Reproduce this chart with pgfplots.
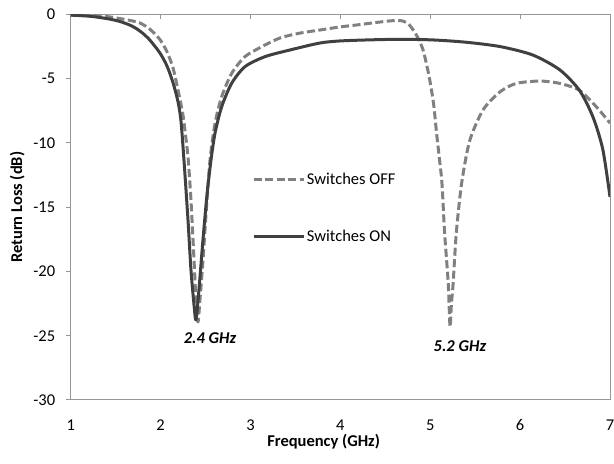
\documentclass[border=0pt]{standalone}
\usepackage{fontspec}
\setmainfont{Carlito}
\usepackage{pgfplots}
\pgfplotsset{compat=1.18}
\definecolor{solidc}{RGB}{64,64,64}
\definecolor{dashc}{RGB}{128,128,128}
\definecolor{framec}{RGB}{150,150,150}
\begin{document}
\begin{tikzpicture}
\begin{axis}[
  name=ax,
  scale only axis,
  width=539.3pt, height=385.5pt,
  xmin=1, xmax=7, ymin=-30, ymax=0,
  xtick={1,2,3,4,5,6,7},
  ytick={-30,-25,-20,-15,-10,-5,0},
  font=\fontsize{16.5}{20}\selectfont,
  /pgf/number format/assume math mode=true,
  axis line style={draw=framec, line width=1pt},
  tick style={draw=framec, line width=1pt},
  major tick length=5pt,
  tick align=inside,
  xtick pos=right,
  xticklabel pos=left,
  ytick pos=left,
  ytick style={xshift=-5pt},
  yticklabel style={xshift=-12pt},
  xticklabel style={yshift=-16pt},
  xlabel={\bfseries Frequency (GHz)},
  ylabel={\bfseries Return Loss (dB)},
  xlabel style={at={(axis description cs:0.469,-0.108)}, anchor=center},
  ylabel style={at={(axis description cs:-0.099,0.5)}, anchor=center},
  legend style={draw=none, fill=none, inner sep=0pt, row sep=41pt,
    at={(axis cs:3.02,-12.2)}, anchor=north west,
    nodes={inner sep=1.5pt}},
  legend cell align=left,
  legend image code/.code={\draw[#1] (0pt,0pt) -- (50pt,0pt);},
]
\addplot[dashc, line width=3pt, dash pattern=on 8pt off 3.5pt, smooth, tension=0.45, line join=round] coordinates {
(1.00,-0.05) (1.20,-0.07) (1.33,-0.12) (1.45,-0.20) (1.55,-0.32) (1.65,-0.45)
(1.771,-0.66) (1.882,-1.15) (1.993,-1.95) (2.071,-2.9) (2.138,-4.15)
(2.194,-5.88) (2.249,-7.82) (2.288,-10.0) (2.308,-11.32) (2.338,-14.44)
(2.372,-19.1) (2.394,-22.2) (2.416,-23.93)
(2.438,-22.2) (2.472,-19.1) (2.505,-15.6) (2.55,-11.32) (2.606,-8.45)
(2.680,-6.40) (2.791,-4.58) (2.939,-3.28) (3.125,-2.51) (3.328,-1.83)
(3.55,-1.45) (3.772,-1.21) (3.994,-0.97) (4.2,-0.80) (4.4,-0.62)
(4.55,-0.50) (4.64,-0.46) (4.70,-0.52) (4.76,-0.75) (4.81,-1.2)
(4.87,-1.9) (4.92,-2.76) (4.96,-3.9) (5.00,-5.3) (5.04,-7.1) (5.07,-9.2)
(5.10,-11.1) (5.13,-13.1) (5.16,-17.0) (5.20,-20.9) (5.22,-24.3)
(5.235,-22.6) (5.255,-20.9) (5.29,-17.0) (5.35,-13.1) (5.44,-9.8)
(5.59,-7.4) (5.78,-6.0) (5.96,-5.36) (6.22,-5.18) (6.44,-5.36)
(6.66,-5.9) (6.85,-7.2) (7.00,-8.45)
};
\addlegendentry{Switches OFF}
\addplot[solidc, line width=3pt, smooth, tension=0.45, line join=round] coordinates {
(1.00,-0.05) (1.20,-0.13) (1.33,-0.24) (1.45,-0.38) (1.55,-0.55)
(1.65,-0.80) (1.72,-1.05) (1.80,-1.45) (1.882,-2.0) (1.993,-3.0) (2.071,-4.0)
(2.138,-5.3) (2.194,-6.8) (2.227,-8.3) (2.260,-11.32) (2.305,-15.99)
(2.338,-19.88) (2.372,-22.6) (2.394,-23.77)
(2.427,-21.4) (2.472,-17.5) (2.516,-14.05) (2.561,-11.32) (2.606,-9.22)
(2.680,-7.17) (2.791,-5.35) (2.939,-4.06) (3.162,-3.28) (3.44,-2.76)
(3.772,-2.22) (3.994,-2.06) (4.3,-1.98) (4.66,-1.93) (5.03,-1.98)
(5.40,-2.16) (5.78,-2.5) (6.14,-3.15) (6.44,-4.3) (6.66,-5.9)
(6.81,-7.97) (6.92,-10.5) (7.0,-14.2)
};
\addlegendentry{Switches ON}
\node[font=\fontsize{16.5}{20}\selectfont\bfseries\itshape] at (axis cs:2.55,-25.2) {2.4 GHz};
\node[font=\fontsize{16.5}{20}\selectfont\bfseries\itshape] at (axis cs:5.33,-25.8) {5.2 GHz};
\end{axis}
\pgfresetboundingbox
\path ([xshift=-70.7pt,yshift=-64pt]ax.south west) rectangle ([xshift=4pt,yshift=14.5pt]ax.north east);
\end{tikzpicture}
\end{document}
